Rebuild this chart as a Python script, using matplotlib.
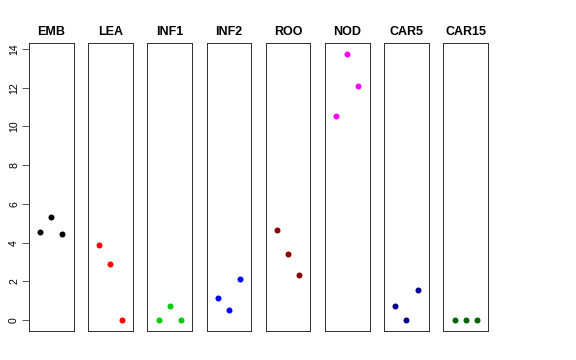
import matplotlib
matplotlib.use("Agg")
import matplotlib.pyplot as plt

plt.rcParams['font.family'] = ['Liberation Sans', 'DejaVu Sans']

# panel names and colours
tissues = ["EMB", "LEA", "INF1", "INF2", "ROO", "NOD", "CAR5", "CAR15"]
colors = ["black", "red", "#00CD00", "blue", "#8B0000", "magenta", "#00008B", "#006400"]

# three replicate values per tissue
emb = [4.56, 5.33, 4.47]
lea = [3.90, 2.89, 0.0]
inf1 = [0.0, 0.72, 0.0]
inf2 = [1.13, 0.53, 2.12]
roo = [4.66, 3.42, 2.34]
nod = [10.54, 13.76, 12.07]
car5 = [0.75, 0.0, 1.55]
car15 = [0.0, 0.0, 0.0]
values = [emb, lea, inf1, inf2, roo, nod, car5, car15]

W, H = 576, 360
fig = plt.figure(figsize=(W / 72, H / 72), dpi=72)

left0, step, pw = 29, 59.2, 44.5
top, bottom = 43, 330.7
ymin, ymax = -0.55, 14.31

for i, (name, col, vals) in enumerate(zip(tissues, colors, values)):
    x0 = left0 + i * step
    ax = fig.add_axes([x0 / W, 1 - bottom / H, pw / W, (bottom - top) / H])
    ax.scatter([1, 2, 3], vals, s=36, color=col, zorder=3, linewidths=0)
    ax.set_xlim(0, 4)
    ax.set_ylim(ymin, ymax)
    ax.set_xticks([])
    for sp in ax.spines.values():
        sp.set_color("#333333")
        sp.set_linewidth(1.0)
    ax.set_title(name, fontsize=12.5, fontweight="bold", pad=8)
    if i == 0:
        ax.set_yticks([0, 2, 4, 6, 8, 10, 12, 14])
        ax.tick_params(axis="y", length=7, labelsize=10.5, pad=3, color="#333333")
        for lab in ax.get_yticklabels():
            lab.set_rotation(90)
            lab.set_va("center")
    else:
        ax.set_yticks([])

fig.savefig("out.png", dpi=72)
